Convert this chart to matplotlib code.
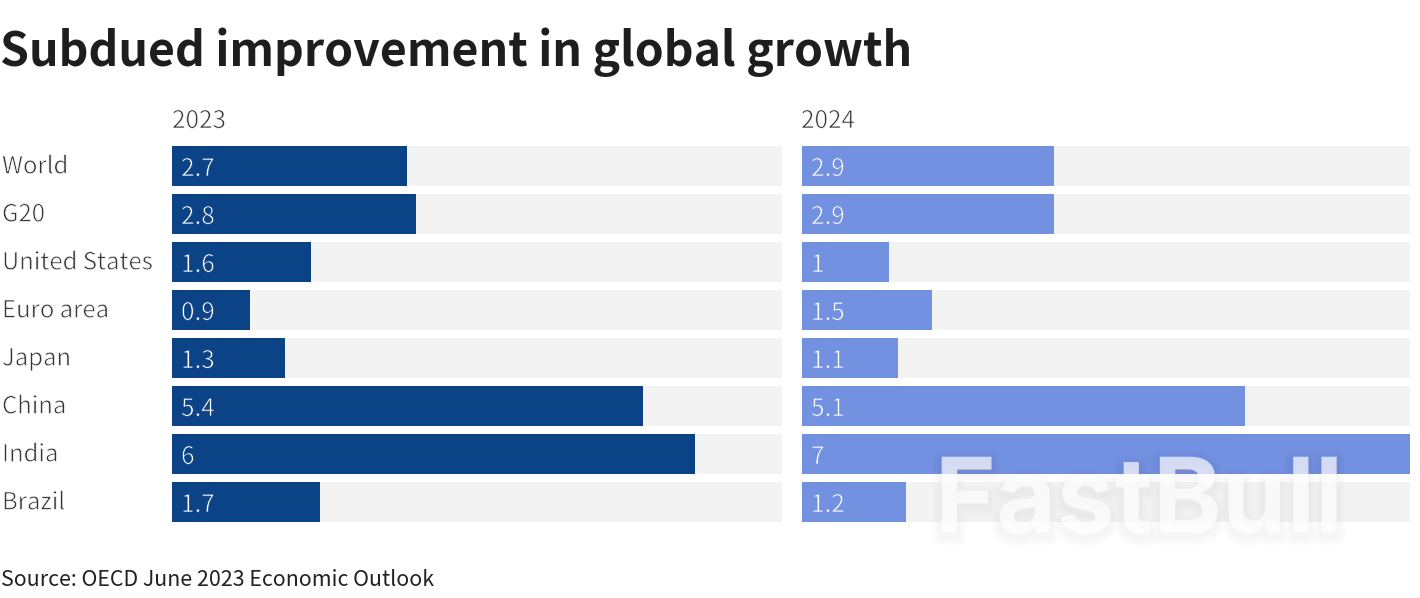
import matplotlib
matplotlib.use("Agg")
import matplotlib.pyplot as plt
from matplotlib import patheffects as pe

W, H = 1420, 598
plt.rcParams['font.family'] = ["Noto Sans CJK SC", "Noto Sans", "DejaVu Sans"]

categories = ["World", "G20", "United States", "Euro area", "Japan", "China", "India", "Brazil"]
values_2023 = [2.7, 2.8, 1.6, 0.9, 1.3, 5.4, 6, 1.7]
values_2024 = [2.9, 2.9, 1, 1.5, 1.1, 5.1, 7, 1.2]
labels_2023 = ["2.7", "2.8", "1.6", "0.9", "1.3", "5.4", "6", "1.7"]
labels_2024 = ["2.9", "2.9", "1", "1.5", "1.1", "5.1", "7", "1.2"]
panel_titles = ["2023", "2024"]
XMAX = 7.0
DARK = "#0b4386"
LIGHT = "#7291e0"
TRACK = "#f3f3f3"

fig = plt.figure(figsize=(W/100, H/100), dpi=100, facecolor="white")

def make_ax(x0, x1, y0, y1):
    ax = fig.add_axes([x0/W, 1-y1/H, (x1-x0)/W, (y1-y0)/H])
    ax.set_xlim(0, XMAX)
    ax.set_ylim(len(categories)-1+20/48, -20/48)
    ax.axis("off")
    return ax

def thin(bg, w=0.5):
    return [pe.Stroke(linewidth=w, foreground=bg)]

ax1 = make_ax(172, 782, 146, 522)
ax2 = make_ax(802, 1410, 146, 522)
ypos = list(range(len(categories)))
h = 40/48

for ax, vals, labs, col in [(ax1, values_2023, labels_2023, DARK), (ax2, values_2024, labels_2024, LIGHT)]:
    ax.barh(ypos, [XMAX]*len(ypos), height=h, color=TRACK, linewidth=0)
    ax.barh(ypos, vals, height=h, color=col, linewidth=0)
    for y, lab in zip(ypos, labs):
        ax.annotate(lab, (0, y), xytext=(9, -3), textcoords="offset pixels", color="white",
                    fontsize=17.5, va="center", ha="left", path_effects=thin(col))

for y, c in zip(ypos, categories):
    ax1.annotate(c, (0, y), xytext=(-170, -1), textcoords="offset pixels", color="#333333",
                 fontsize=17.2, va="center", ha="left", path_effects=thin("white"))

fig.text(172/W, 1-121/H, panel_titles[0], fontsize=17.5, color="#333333", va="center", ha="left", path_effects=thin("white"))
fig.text(801/W, 1-121/H, panel_titles[1], fontsize=17.5, color="#333333", va="center", ha="left", path_effects=thin("white"))
fig.text(0.5/W, 1-52/H, "Subdued improvement in global growth", fontsize=33.4, fontweight="bold", color="#1e1e1e", va="center", ha="left")
fig.text(1/W, 1-580/H, "Source: OECD June 2023 Economic Outlook", fontsize=15.4, color="#222222", va="center", ha="left")

shadow = [pe.Stroke(linewidth=w, foreground="black", alpha=0.009, offset=(0, -3)) for w in (14, 11, 8, 5, 2)]
wm = fig.text(1139/W, 1-505/H, "FastBull", fontsize=75, fontweight="bold", family=["Inter", "DejaVu Sans"],
              color="white", va="center", ha="center", zorder=10,
              path_effects=shadow + [pe.Stroke(linewidth=0, foreground="white", alpha=0.7)])
wm.set_alpha(0.7)

fig.savefig("out.png", dpi=100, facecolor="white")
